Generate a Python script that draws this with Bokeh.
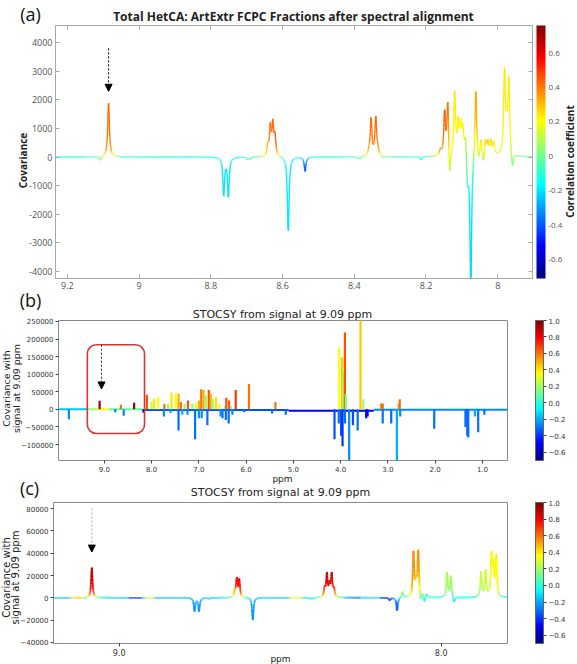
import numpy as np
from bokeh.plotting import figure
from bokeh.models import (ColorBar, FixedTicker, Label, LinearAxis, LinearColorMapper, Range1d,
                          Arrow, NormalHead, BoxAnnotation, ColumnDataSource)
from bokeh.embed import file_html
from bokeh.resources import INLINE

# ---------------- (a) total HetCA, 9.2-7.9 ppm ----------------
a_ppm = [9.108, 9.085, 8.764, 8.751, 8.697, 8.690, 8.641, 8.634, 8.627, 8.621,
         8.584, 8.537, 8.390, 8.383, 8.359, 8.353, 8.340, 8.334, 8.319, 8.214,
         8.160, 8.148, 8.139, 8.134, 8.120, 8.110, 8.103, 8.097, 8.090, 8.084,
         8.075, 8.061, 8.053, 8.047, 8.040, 8.034, 8.027, 8.019, 8.011, 7.981,
         7.975, 7.969, 7.959]
a_cov = [-140, 1880, -1300, -1360, -80, -70, 350, 1000, 1080, 650,
         -2600, -500, -70, -70, 150, 1300, 1340, 200, -60, -100,
         200, 1480, 1980, -1100, 2200, 1100, 1000, 900, 750, -900,
         -4600, 2450, -300, 600, -350, 550, 450, 500, 450, 2880,
         700, 2580, -550]
a_corr = [-0.05, 0.45, -0.2, -0.2, -0.05, -0.05, 0.35, 0.45, 0.45, 0.55,
          -0.2, -0.45, -0.1, -0.1, 0.35, 0.45, 0.45, 0.45, -0.2, -0.3,
          0.5, 0.5, 0.5, -0.05, 0.25, 0.25, 0.25, 0.25, 0.2, -0.1,
          -0.25, 0.4, -0.1, 0.35, -0.05, 0.35, 0.35, 0.3, 0.3, 0.25,
          0.25, 0.25, -0.05]
a_base_corr = -0.13
a_xticks = [9.2, 9.0, 8.8, 8.6, 8.4, 8.2, 8.0]
a_xlabels = ["9.2", "9", "8.8", "8.6", "8.4", "8.2", "8"]
a_yticks = [-4000, -3000, -2000, -1000, 0, 1000, 2000, 3000, 4000]
a_cticks = [-0.6, -0.4, -0.2, 0.0, 0.2, 0.4, 0.6]
a_clabels = ["-0.6", "-0.4", "-0.2", "0", "0.2", "0.4", "0.6"]

# ---------------- (b) STOCSY, full spectrum (stick peaks) ----------------
b_ppm = [9.10, 8.65, 8.37, 8.10, 8.00, 7.95, 7.86, 7.73, 7.65, 7.58, 7.49, 7.43,
         7.38, 7.30, 7.23, 7.14, 7.06, 7.00, 6.95, 6.90, 6.85, 6.79, 6.75, 6.71,
         6.64, 6.57, 6.45, 6.42, 6.36, 6.32, 6.22, 5.94, 5.38, 4.03, 3.97, 3.94,
         3.91, 3.89, 3.58, 3.52, 3.14, 3.11, 2.77, 2.75,
         9.75, 8.77, 8.59, 8.17, 7.74, 7.60, 7.43, 7.35, 7.24, 7.08, 7.00, 6.94,
         6.82, 6.54, 6.50, 6.43, 6.37, 6.29, 6.04, 5.45, 5.16, 4.13, 4.04, 3.99,
         3.96, 3.91, 3.82, 3.74, 3.64, 3.46, 3.43, 3.11, 2.93, 2.81, 2.74, 2.02,
         1.36, 1.32, 1.30, 1.16, 1.09, 0.96]
b_cov = [24600, 13300, 19000, 41700, 22000, 30000, 36000, 15000, 17000, 47000, 45000, 45000,
         20000, 15000, 25000, 15000, 18000, 25000, 57000, 55000, 40000, 55000, 45000, 30000,
         35000, 15000, 10000, 33000, 25000, 10000, 55000, 72000, 21000, 176000, 148000, 110000,
         219000, 44000, 270000, 29000, 17000, 17000, 17000, 29000,
         -28400, -8500, -18000, -10000, -20000, -10000, -60000, -15000, -15000, -85000, -25000, -25000,
         -45000, -20000, -25000, -30000, -40000, -15000, -8000, -12000, -15000, -85000, -40000, -75000,
         -105000, -40000, -150000, -45000, -60000, -25000, -20000, -40000, -40000, -150000, -20000, -55000,
         -50000, -75000, -80000, -20000, -65000, -15000]
b_corr = [0.95, 0.6, 0.95, 0.65, 0.25, 0.4, 0.35, 0.6, 0.2, 0.4, 0.35, 0.5,
          0.6, 0.2, 0.65, 0.2, 0.35, 0.5, 0.6, 0.5, 0.2, 0.65, 0.5, 0.2,
          0.4, 0.35, 0.2, 0.65, 0.65, 0.2, 0.7, 0.6, 0.6, 0.35, 0.45, 0.2,
          0.65, 0.15, 0.45, 0.2, 0.6, 0.6, 0.55, 0.6,
          -0.25, -0.3, -0.25, -0.55, -0.25, -0.25, -0.3, -0.2, -0.25, -0.3, -0.25, -0.25,
          -0.3, -0.25, -0.3, -0.3, -0.3, -0.25, -0.3, -0.3, -0.3, -0.35, -0.3, -0.35,
          -0.4, -0.3, -0.25, -0.35, -0.3, -0.5, -0.5, -0.3, -0.3, -0.2, -0.25, -0.3,
          -0.3, -0.35, -0.3, -0.2, -0.3, -0.3]
b_base_from = [9.97, 9.36, 9.15, 8.90, 8.20, 5.10, 3.30]
b_base_to = [9.36, 9.15, 8.90, 8.20, 5.10, 3.30, 0.47]
b_base_level = [0, 0, 0, 0, -2000, -4000, -1000]
b_base_corr = [-0.15, 0.2, 0.35, 0.1, -0.35, -0.5, -0.25]
b_xticks = [9.0, 8.0, 7.0, 6.0, 5.0, 4.0, 3.0, 2.0, 1.0]
b_yticks = [-100000, -50000, 0, 50000, 100000, 150000, 200000, 250000]

# ---------------- (c) STOCSY, aromatic region ----------------
c_ppm = [9.108, 9.085, 8.766, 8.752, 8.720, 8.641, 8.635, 8.627, 8.585, 8.410,
         8.400, 8.362, 8.355, 8.347, 8.340, 8.333, 8.160, 8.137, 8.120, 8.086,
         8.078, 8.071, 8.064, 8.058, 8.052, 8.045, 7.982, 7.970, 7.960, 7.876,
         7.862, 7.844, 7.838, 7.829]
c_cov = [-1000, 27200, -12000, -12000, -1000, 5000, 16400, 15800, -20000, -1000,
         -1000, 8000, 20300, 11000, 20300, 7000, -2500, -11700, 5400, 39800,
         12000, 41300, -7000, 3000, -5000, 3500, 22400, 19400, -5000, 22400,
         23300, 35900, 26300, 36200]
c_corr = [-0.15, 0.95, -0.25, -0.25, -0.2, 0.5, 0.9, 0.9, -0.25, -0.2,
          -0.2, 0.8, 0.95, 0.9, 0.95, 0.8, -0.45, -0.4, 0.25, 0.6,
          0.4, 0.6, -0.2, 0.1, -0.2, 0.1, 0.25, 0.25, -0.2, 0.3,
          0.3, 0.4, 0.35, 0.4]
c_base_corr = -0.15
c_base_from = [9.15, 8.97, 8.92, 8.47, 8.30, 8.19]
c_base_to = [9.11, 8.93, 8.89, 8.43, 8.25, 8.15]
c_base_val = [0.4, -0.4, 0.3, 0.3, -0.35, -0.5]
c_xticks = [9.0, 8.0]
c_yticks = [-40000, -20000, 0, 20000, 40000, 60000, 80000]

bc_cticks = [-0.6, -0.4, -0.2, 0.0, 0.2, 0.4, 0.6, 0.8, 1.0]
bc_clabels = ["\u22120.6", "\u22120.4", "\u22120.2", "0.0", "0.2", "0.4", "0.6", "0.8", "1.0"]

STOCSY_TITLE = "STOCSY from signal at 9.09 ppm"


def jet_palette(n=256):
    t = np.linspace(0, 1, n)
    r = np.clip(1.5 - np.abs(4 * t - 3), 0, 1)
    g = np.clip(1.5 - np.abs(4 * t - 2), 0, 1)
    b = np.clip(1.5 - np.abs(4 * t - 1), 0, 1)
    return ["#%02x%02x%02x" % (int(255 * a), int(255 * c), int(255 * d)) for a, c, d in zip(r, g, b)]


JET = jet_palette()


def spectrum(ppm, cov, corr, base_corr, regions, hi, lo, hwhm, thr, n):
    """Sum of Lorentzian lines; colour blends peak correlations by their local weight."""
    x = np.linspace(hi, lo, n)
    pos = np.asarray(ppm, float)[None, :]
    amp = np.asarray(cov, float)[None, :]
    contrib = amp * hwhm ** 2 / ((x[:, None] - pos) ** 2 + hwhm ** 2)
    y = contrib.sum(axis=1)
    base = np.full(n, base_corr)
    for start, end, val in regions:
        base[(x <= start) & (x >= end)] = val
    w = np.abs(contrib)
    col = ((w * np.asarray(corr, float)[None, :]).sum(axis=1) + thr * base) / (w.sum(axis=1) + thr)
    return ColumnDataSource(dict(x0=x[:-1], x1=x[1:], y0=y[:-1], y1=y[1:],
                                 corr=(col[:-1] + col[1:]) / 2))


def style_mpl(p, font, xsize, ysize):
    p.outline_line_color = "#8a8a8a"
    p.grid.visible = False
    for ax, size in ((p.xaxis[0], xsize), (p.yaxis[0], ysize)):
        ax.axis_line_color = None
        ax.major_tick_line_color = "#444444"
        ax.major_tick_in = 0
        ax.major_tick_out = 3
        ax.minor_tick_line_color = None
        ax.major_label_text_font = font
        ax.major_label_text_font_size = size
        ax.major_label_text_color = "#333333"
        ax.major_label_standoff = 2


def mpl_colorbar(mapper, height):
    return ColorBar(color_mapper=mapper, ticker=FixedTicker(ticks=bc_cticks),
                    major_label_overrides=dict(zip(bc_cticks, bc_clabels)),
                    width=8, height=height, padding=0, margin=0, location=(28, 0),
                    label_standoff=2, major_tick_in=0, major_tick_out=3,
                    major_tick_line_color="#444444",
                    bar_line_color="#666666", border_line_color=None, background_fill_alpha=0,
                    major_label_text_font="DejaVu Sans", major_label_text_font_size="7px",
                    major_label_text_color="#333333")


# ================= panel (a) =================
map_a = LinearColorMapper(palette=JET, low=-0.71, high=0.76)
pa = figure(width=577, height=293, x_range=Range1d(9.233, 7.903), y_range=Range1d(-4250, 4600),
            output_backend="svg", toolbar_location=None,
            min_border_left=55, min_border_right=45, min_border_top=25, min_border_bottom=15)
pa.grid.visible = False
pa.outline_line_color = "#a8a8a8"
src_a = spectrum(a_ppm, a_cov, a_corr, a_base_corr, [], 9.233, 7.903, 0.0028, 60, 2400)
pa.segment(x0="x0", y0="y0", x1="x1", y1="y1", source=src_a, line_width=1.4,
           line_color={"field": "corr", "transform": map_a})
pa.xaxis.ticker = FixedTicker(ticks=a_xticks)
pa.xaxis.major_label_overrides = dict(zip(a_xticks, a_xlabels))
pa.yaxis.ticker = FixedTicker(ticks=a_yticks)
pa.yaxis.major_label_overrides = {t: str(t) for t in a_yticks}
# box ticks on the top and right edges, pointing inwards
pa.add_layout(LinearAxis(ticker=FixedTicker(ticks=a_xticks),
                         major_label_overrides={t: "" for t in a_xticks}), "above")
pa.add_layout(LinearAxis(ticker=FixedTicker(ticks=a_yticks),
                         major_label_overrides={t: "" for t in a_yticks}), "right")
for ax in pa.xaxis + pa.yaxis:
    ax.axis_line_color = "#a8a8a8"
    ax.major_tick_line_color = "#a8a8a8"
    ax.major_tick_in = 4
    ax.major_tick_out = 0
    ax.minor_tick_line_color = None
    ax.major_label_text_font = "Open Sans"
    ax.major_label_text_font_size = "9px"
    ax.major_label_text_color = "#555555"
    ax.major_label_standoff = 3
pa.above[0].major_label_standoff = 0
pa.right[0].major_label_standoff = 0
cb_a = ColorBar(color_mapper=map_a, ticker=FixedTicker(ticks=a_cticks),
                major_label_overrides=dict(zip(a_cticks, a_clabels)),
                width=9, height=253, padding=0, margin=0, location=(4, 0),
                label_standoff=3, major_tick_in=0, major_tick_out=0,
                bar_line_color=None, border_line_color=None, background_fill_alpha=0,
                major_label_text_font="Open Sans", major_label_text_font_size="8px",
                major_label_text_color="#555555")
pa.add_layout(cb_a, "right")
pa.add_layout(Arrow(end=NormalHead(size=7, fill_color="black", line_color="black"),
                    x_start=9.085, y_start=3800, x_end=9.085, y_end=2300,
                    line_dash="2 2", line_width=1, line_color="black"))

# ================= panel (b) =================
map_bc = LinearColorMapper(palette=JET, low=-0.70, high=1.0)
pb = figure(width=577, height=187, x_range=Range1d(9.97, 0.47), y_range=Range1d(-145500, 252800),
            output_backend="svg", toolbar_location=None,
            min_border_left=58, min_border_right=70, min_border_top=27, min_border_bottom=20)
style_mpl(pb, "DejaVu Sans", "7px", "7px")
base_b = ColumnDataSource(dict(x0=b_base_from, x1=b_base_to, y=b_base_level, corr=b_base_corr))
pb.segment(x0="x0", y0="y", x1="x1", y1="y", source=base_b, line_width=2,
           line_color={"field": "corr", "transform": map_bc})
sticks = ColumnDataSource(dict(ppm=b_ppm, cov=b_cov, corr=b_corr, zero=[0] * len(b_ppm)))
pb.segment(x0="ppm", y0="zero", x1="ppm", y1="cov", source=sticks, line_width=2.2,
           line_color={"field": "corr", "transform": map_bc})
pb.xaxis.ticker = FixedTicker(ticks=b_xticks)
pb.xaxis.major_label_overrides = {t: "%.1f" % t for t in b_xticks}
pb.yaxis.ticker = FixedTicker(ticks=b_yticks)
pb.yaxis.major_label_overrides = {t: ("%d" % t).replace("-", "\u2212") for t in b_yticks}
pb.add_layout(BoxAnnotation(left=9.36, right=8.15, top=184000, bottom=-68700,
                            fill_alpha=0, line_color="#d8372f", line_alpha=1.0,
                            line_width=1.6, border_radius=9))
pb.add_layout(Arrow(end=NormalHead(size=7, fill_color="black", line_color="black"),
                    x_start=9.06, y_start=184000, x_end=9.06, y_end=58000,
                    line_dash="2 2", line_width=1, line_color="#333333"))
pb.add_layout(mpl_colorbar(map_bc, 140), "right")

# ================= panel (c) =================
pc = figure(width=577, height=184, x_range=Range1d(9.204, 7.794), y_range=Range1d(-40900, 85400),
            output_backend="svg", toolbar_location=None,
            min_border_left=53, min_border_right=70, min_border_top=22, min_border_bottom=21)
style_mpl(pc, "DejaVu Sans", "8px", "7px")
c_regions = list(zip(c_base_from, c_base_to, c_base_val))
src_c = spectrum(c_ppm, c_cov, c_corr, c_base_corr, c_regions, 9.204, 7.794, 0.0026, 1500, 2600)
pc.segment(x0="x0", y0="y0", x1="x1", y1="y1", source=src_c, line_width=1.8,
           line_color={"field": "corr", "transform": map_bc})
pc.xaxis.ticker = FixedTicker(ticks=c_xticks)
pc.xaxis.major_label_overrides = {t: "%.1f" % t for t in c_xticks}
pc.yaxis.ticker = FixedTicker(ticks=c_yticks)
pc.yaxis.major_label_overrides = {t: ("%d" % t).replace("-", "\u2212") for t in c_yticks}
pc.add_layout(Arrow(end=NormalHead(size=7, fill_color="black", line_color="black"),
                    x_start=9.085, y_start=80000, x_end=9.085, y_end=41000,
                    line_dash="2 2", line_width=1, line_color="#b0b0b0"))
pc.add_layout(mpl_colorbar(map_bc, 141), "right")

# ================= text layer over the three panels (page pixels, y downwards) =================
ov = figure(width=577, height=664, x_range=Range1d(0, 577), y_range=Range1d(664, 0),
            x_axis_type=None, y_axis_type=None, output_backend="svg", toolbar_location=None,
            min_border=0, outline_line_color=None, background_fill_color=None,
            border_fill_color=None,
            styles={"position": "absolute", "top": "0px", "left": "0px", "z-index": "5"})
ov.grid.visible = False


def text(x, y, s, size, font, bold=False, angle=0.0, color="#222222"):
    ov.add_layout(Label(x=x, y=y, text=s, text_font=font, text_font_size=size, angle=angle,
                        text_font_style="bold" if bold else "normal", text_color=color,
                        text_align="center", text_baseline="middle"))


VERT = np.pi / 2
text(30, 13, "(a)", "18px", "Open Sans", color="#111111")
text(293, 16, "Total HetCA: ArtExtr FCPC Fractions after spectral alignment", "12px",
     "Open Sans", bold=True)
text(22, 160, "Covariance", "10px", "Open Sans", bold=True, angle=VERT)
text(569, 161, "Correlation coefficient", "10px", "Open Sans", bold=True, angle=VERT)

text(30, 299, "(b)", "18px", "Open Sans", color="#111111")
text(282, 314, STOCSY_TITLE, "11px", "DejaVu Sans")
text(6, 388, "Covariance with", "9.5px", "DejaVu Sans", angle=VERT)
text(15.5, 388, "signal at 9.09 ppm", "9.5px", "DejaVu Sans", angle=VERT)
text(282, 478, "ppm", "9px", "DejaVu Sans")

text(29, 487, "(c)", "18px", "Open Sans", color="#111111")
text(280, 492, STOCSY_TITLE, "11px", "DejaVu Sans")
text(5.5, 577, "Covariance with", "10px", "DejaVu Sans", angle=VERT)
text(15, 577, "signal at 9.09 ppm", "10px", "DejaVu Sans", angle=VERT)
text(280, 658, "ppm", "9px", "DejaVu Sans")

open("out.html", "w").write(file_html([pa, pb, pc, ov], INLINE))
